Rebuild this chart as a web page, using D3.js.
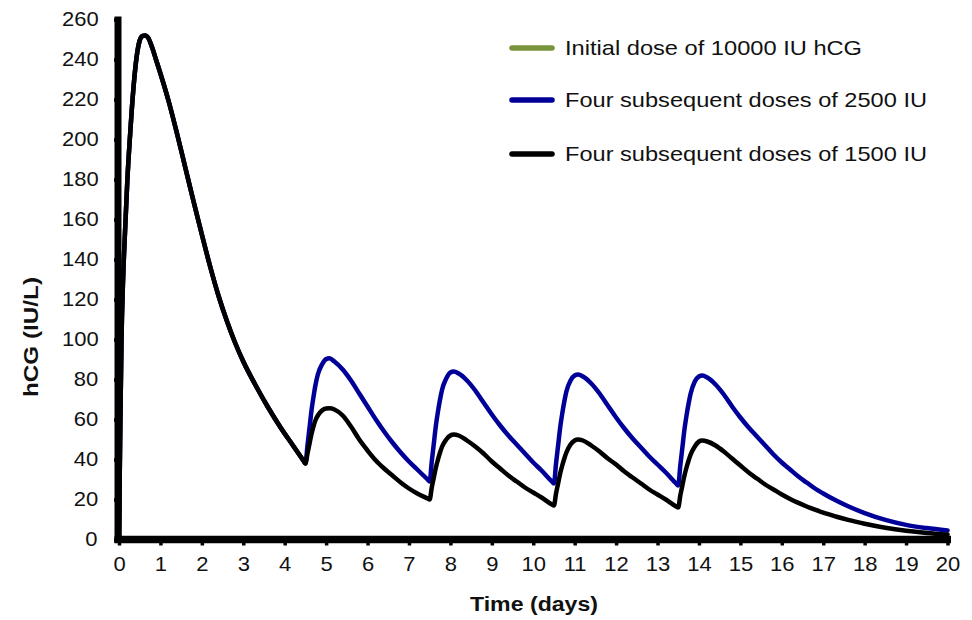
<!DOCTYPE html>
<html>
<head>
<meta charset="utf-8">
<script src="https://cdn.jsdelivr.net/npm/d3@7"></script>
<style>
  html, body { margin: 0; padding: 0; background: #fff; }
  svg { display: block; }
  text { font-family: "Liberation Sans", Arial, sans-serif; fill: #111; }
  .stretch { transform-box: fill-box; transform-origin: center; transform: scaleX(1.1); }
</style>
</head>
<body>
<svg id="chart" width="972" height="620"></svg>
<script>
// Serum hCG after the initial 10000 IU dose (shared by all regimens until day 4.5)
const initialDays = [0, 0.03, 0.06, 0.1, 0.15, 0.2, 0.27, 0.35, 0.43, 0.5, 0.56, 0.63, 0.7, 0.8, 0.9, 1.0,
  1.2, 1.4, 1.6, 1.8, 2.0, 2.2, 2.4, 2.6, 2.8, 3.0, 3.3, 3.6, 3.9, 4.2, 4.45, 4.5];
const initialLevel = [0, 55, 100, 131, 156, 179, 203, 226, 242, 249.5, 251.7, 252, 251, 246, 239.5, 233,
  219, 203, 186, 169, 152.5, 136.5, 122, 109.5, 98.5, 89, 77, 66, 56, 47, 39.5, 38];

// Days sampled after each subsequent dose (given on days 4.5, 7.5, 10.5 and 13.5)
const laterDays = [
  4.55, 4.6, 4.65, 4.7, 4.75, 4.8, 4.9, 5.0, 5.08, 5.2, 5.4, 5.6, 5.8, 6.0, 6.2, 6.4, 6.6, 6.8, 7.0, 7.2, 7.45, 7.5,
  7.55, 7.6, 7.65, 7.7, 7.75, 7.8, 7.9, 8.0, 8.08, 8.2, 8.4, 8.6, 8.8, 9.0, 9.2, 9.4, 9.6, 9.8, 10.0, 10.2, 10.45, 10.5,
  10.55, 10.6, 10.65, 10.7, 10.75, 10.8, 10.9, 11.0, 11.08, 11.2, 11.4, 11.6, 11.8, 12.0, 12.2, 12.4, 12.6, 12.8, 13.0, 13.2, 13.45, 13.5,
  13.55, 13.6, 13.65, 13.7, 13.75, 13.8, 13.9, 14.0, 14.08, 14.2, 14.4, 14.6, 14.8, 15.0, 15.2, 15.4, 15.6, 15.8,
  16.0, 16.2, 16.4, 16.6, 16.8, 17.0, 17.3, 17.6, 18.0, 18.5, 19.0, 19.5, 20.0
];
const level2500 = [
  47, 56, 65, 72, 78, 82.5, 87.5, 90.2, 90.6, 89, 85, 79.5, 73, 66.5, 60, 54, 48.5, 43.5, 39, 35, 30, 29,
  39, 48, 57, 64, 70, 75, 80.5, 83.5, 84, 83, 79.5, 74.5, 68.5, 62.5, 57, 52, 47.5, 43, 38.5, 34.5, 29, 28,
  38, 47, 56, 63, 69, 74, 79.5, 82, 82.5, 81.5, 78, 73, 67, 61, 55.5, 50.5, 46, 41.5, 37.5, 33.5, 28, 27,
  37, 46, 55, 62, 68, 73, 79, 81.5, 82, 81, 77.5, 72.5, 66.5, 61, 56, 51.5, 47, 42.5,
  38.5, 35, 31.5, 28.5, 25.5, 23, 19.6, 16.6, 13.2, 9.8, 7.3, 5.7, 4.5
];
const level1500 = [
  43, 48, 53, 57, 60, 62, 64.5, 65.5, 65.6, 65, 62, 56.5, 50, 44.5, 39.5, 35.5, 32, 28.5, 25.5, 23, 20.5, 20,
  26, 31, 36, 40, 43.5, 46.5, 50, 52, 52.5, 52, 49.5, 46.5, 43, 39, 35.5, 32, 29, 26, 23.5, 21, 17.5, 17,
  23, 28, 33, 37, 40.5, 43.5, 47.5, 49.5, 50, 49.5, 47, 44, 40.5, 37.5, 34, 31, 28, 25, 22.5, 20, 16.5, 16,
  22, 27, 32, 36, 39.5, 42.5, 46.5, 49, 49.5, 49, 47, 44, 40.5, 37, 33.5, 30.5, 27.5, 25,
  22.5, 20.3, 18.3, 16.5, 14.9, 13.4, 11.5, 9.8, 7.9, 5.9, 4.4, 3.3, 2.5
];

const xTicks = d3.range(0, 21, 1);
const yTicks = d3.range(0, 261, 20);

const legendLabels = [
  "Initial dose of 10000 IU hCG",
  "Four subsequent doses of 2500 IU",
  "Four subsequent doses of 1500 IU"
];
const seriesColors = ["#77933c", "#000099", "#000000"];

const svg = d3.select("#chart");
const x = d3.scaleLinear().domain([0, 20]).range([119, 947.5]);
const y = d3.scaleLinear().domain([0, 260]).range([539.5, 19.5]);

const toPoints = (days, vals) => days.map((d, i) => [d, vals[i]]);
const initialSeries = toPoints(initialDays, initialLevel);
const series2500 = initialSeries.concat(toPoints(laterDays, level2500));
const series1500 = initialSeries.concat(toPoints(laterDays, level1500));

const line = d3.line()
  .x(d => x(d[0]))
  .y(d => y(d[1]))
  .curve(d3.curveMonotoneX);

// Concentration curves: initial dose underneath, 1500 IU regimen on top
const curves = svg.append("g").attr("fill", "none")
  .attr("stroke-width", 4.5).attr("stroke-linejoin", "round").attr("stroke-linecap", "round");
[initialSeries, series2500, series1500].forEach((s, i) => {
  curves.append("path").attr("d", line(s)).attr("stroke", seriesColors[i]);
});

// Axes
const yAxis = svg.append("g").attr("transform", `translate(${x(0) - 1},0)`)
  .call(d3.axisLeft(y).tickValues(yTicks).tickSize(4).tickSizeOuter(0).tickPadding(17));
const xAxis = svg.append("g").attr("transform", `translate(0,${y(0)})`)
  .call(d3.axisBottom(x).tickValues(xTicks).tickSize(6).tickSizeOuter(0));

[yAxis, xAxis].forEach(g => {
  g.select(".domain").remove();
  g.selectAll(".tick line").attr("stroke", "#000").attr("stroke-width", 3.5);
  g.selectAll(".tick text").attr("font-size", 20).attr("fill", "#111")
    .attr("font-family", "Liberation Sans, Arial, sans-serif").classed("stretch", true);
});
xAxis.selectAll(".tick text").attr("y", 32).attr("dy", 0);

svg.append("line")
  .attr("x1", x(0) - 1).attr("x2", x(0) - 1)
  .attr("y1", y(260) - 3).attr("y2", y(0) + 3.5)
  .attr("stroke", "#000").attr("stroke-width", 7);
svg.append("line")
  .attr("x1", x(0) - 4.5).attr("x2", x(20) + 3.5)
  .attr("y1", y(0)).attr("y2", y(0))
  .attr("stroke", "#000").attr("stroke-width", 7.5);

// Axis titles
svg.append("text")
  .attr("x", 534).attr("y", 611)
  .attr("text-anchor", "middle").attr("font-size", 20).attr("font-weight", "bold")
  .attr("textLength", 128).attr("lengthAdjust", "spacingAndGlyphs")
  .text("Time (days)");
svg.append("text")
  .attr("transform", "translate(38,337) rotate(-90)")
  .attr("text-anchor", "middle").attr("font-size", 20).attr("font-weight", "bold")
  .attr("textLength", 120).attr("lengthAdjust", "spacingAndGlyphs")
  .text("hCG (IU/L)");

// Legend
const legendRows = [48, 100, 154];
const legendWidths = [297, 362, 362];
const legend = svg.append("g");
legendLabels.forEach((label, i) => {
  legend.append("line")
    .attr("x1", 512).attr("x2", 552)
    .attr("y1", legendRows[i]).attr("y2", legendRows[i])
    .attr("stroke", seriesColors[i]).attr("stroke-width", 5.5).attr("stroke-linecap", "round");
  legend.append("text")
    .attr("x", 565).attr("y", legendRows[i] + 7)
    .attr("font-size", 21)
    .attr("textLength", legendWidths[i]).attr("lengthAdjust", "spacingAndGlyphs")
    .text(label);
});
</script>
</body>
</html>
